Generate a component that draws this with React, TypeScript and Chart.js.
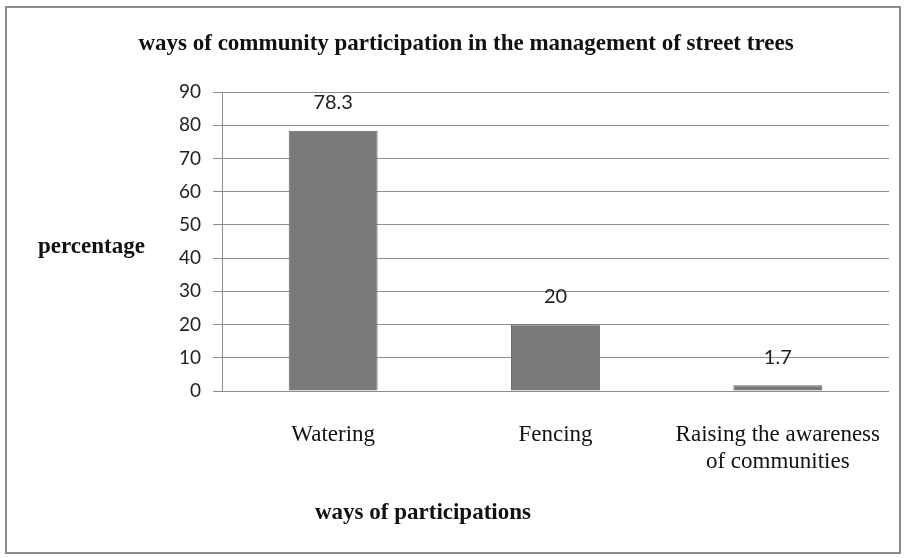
import React, { useEffect, useRef } from "react";
import { Chart, registerables } from "chart.js";

Chart.register(...registerables);

const categories: (string | string[])[] = [
  "Watering",
  "Fencing",
  ["Raising the awareness", "of communities"],
];
const percentages: number[] = [78.3, 20, 1.7];
const valueLabels: string[] = ["78.3", "20", "1.7"];

const chartTitle = "ways of community participation in the management of street trees";
const yTitle = "percentage";
const xTitle = "ways of participations";

const SERIF = '"Liberation Serif", "Times New Roman", serif';
const SANS = 'Lato, "Open Sans", sans-serif';

const decorations = {
  id: "decorations",
  beforeDraw(chart: Chart) {
    const { ctx, width, height } = chart;
    ctx.save();
    ctx.fillStyle = "#ffffff";
    ctx.fillRect(0, 0, width, height);
    ctx.restore();
  },
  afterDraw(chart: Chart) {
    const { ctx } = chart;
    ctx.save();
    // outer frame
    ctx.strokeStyle = "#8a8a8a";
    ctx.lineWidth = 2;
    ctx.strokeRect(6, 7, 894, 546);

    // title
    ctx.fillStyle = "#111111";
    ctx.font = `bold 23px ${SERIF}`;
    ctx.textAlign = "center";
    ctx.textBaseline = "middle";
    ctx.fillText(chartTitle, 466, 44);

    // axis titles
    ctx.font = `bold 23px ${SERIF}`;
    ctx.textAlign = "left";
    ctx.fillText(yTitle, 38, 247);
    ctx.fillText(xTitle, 315, 513);

    // value labels above bars
    const meta = chart.getDatasetMeta(0);
    ctx.font = `20px ${SANS}`;
    ctx.fillStyle = "#222222";
    ctx.textAlign = "center";
    ctx.textBaseline = "middle";
    meta.data.forEach((bar: any, i: number) => {
      ctx.fillText(valueLabels[i], bar.x, bar.y - 28);
    });
    ctx.restore();
  },
};

export default function App() {
  const canvasRef = useRef<HTMLCanvasElement | null>(null);

  useEffect(() => {
    if (!canvasRef.current) return;
    const chart = new Chart(canvasRef.current, {
      type: "bar",
      data: {
        labels: categories,
        datasets: [
          {
            data: percentages,
            backgroundColor: "#7a7a7a",
            borderColor: "#6a6a6a",
            borderWidth: 1,
            barPercentage: 0.4,
            categoryPercentage: 1,
          },
        ],
      },
      options: {
        animation: false,
        responsive: false,
        maintainAspectRatio: false,
        layout: { padding: { left: 160, right: 12, top: 92, bottom: 0 } },
        plugins: {
          legend: { display: false },
          title: { display: false },
          tooltip: { enabled: false },
        },
        scales: {
          x: {
            grid: { display: false },
            border: { display: false },
            ticks: {
              color: "#111111",
              font: { family: SERIF, size: 23 },
              padding: 22,
              maxRotation: 0,
              autoSkip: false,
            },
            afterFit(scale: any) {
              scale.height = 167;
            },
          },
          y: {
            min: 0,
            max: 90,
            ticks: {
              stepSize: 10,
              color: "#222222",
              font: { family: SANS, size: 19 },
              padding: 12,
            },
            grid: {
              color: "#8e8e8e",
              lineWidth: 1,
              tickLength: 9,
            },
            border: { display: true, color: "#8e8e8e", width: 1 },
            afterFit(scale: any) {
              scale.width = 62;
            },
          },
        },
      },
      plugins: [decorations],
    });
    return () => chart.destroy();
  }, []);

  return (
    <div style={{ position: "fixed", left: 0, top: 0, width: 904, height: 558 }}>
      <canvas ref={canvasRef} width={904} height={558} style={{ display: "block" }} />
    </div>
  );
}
